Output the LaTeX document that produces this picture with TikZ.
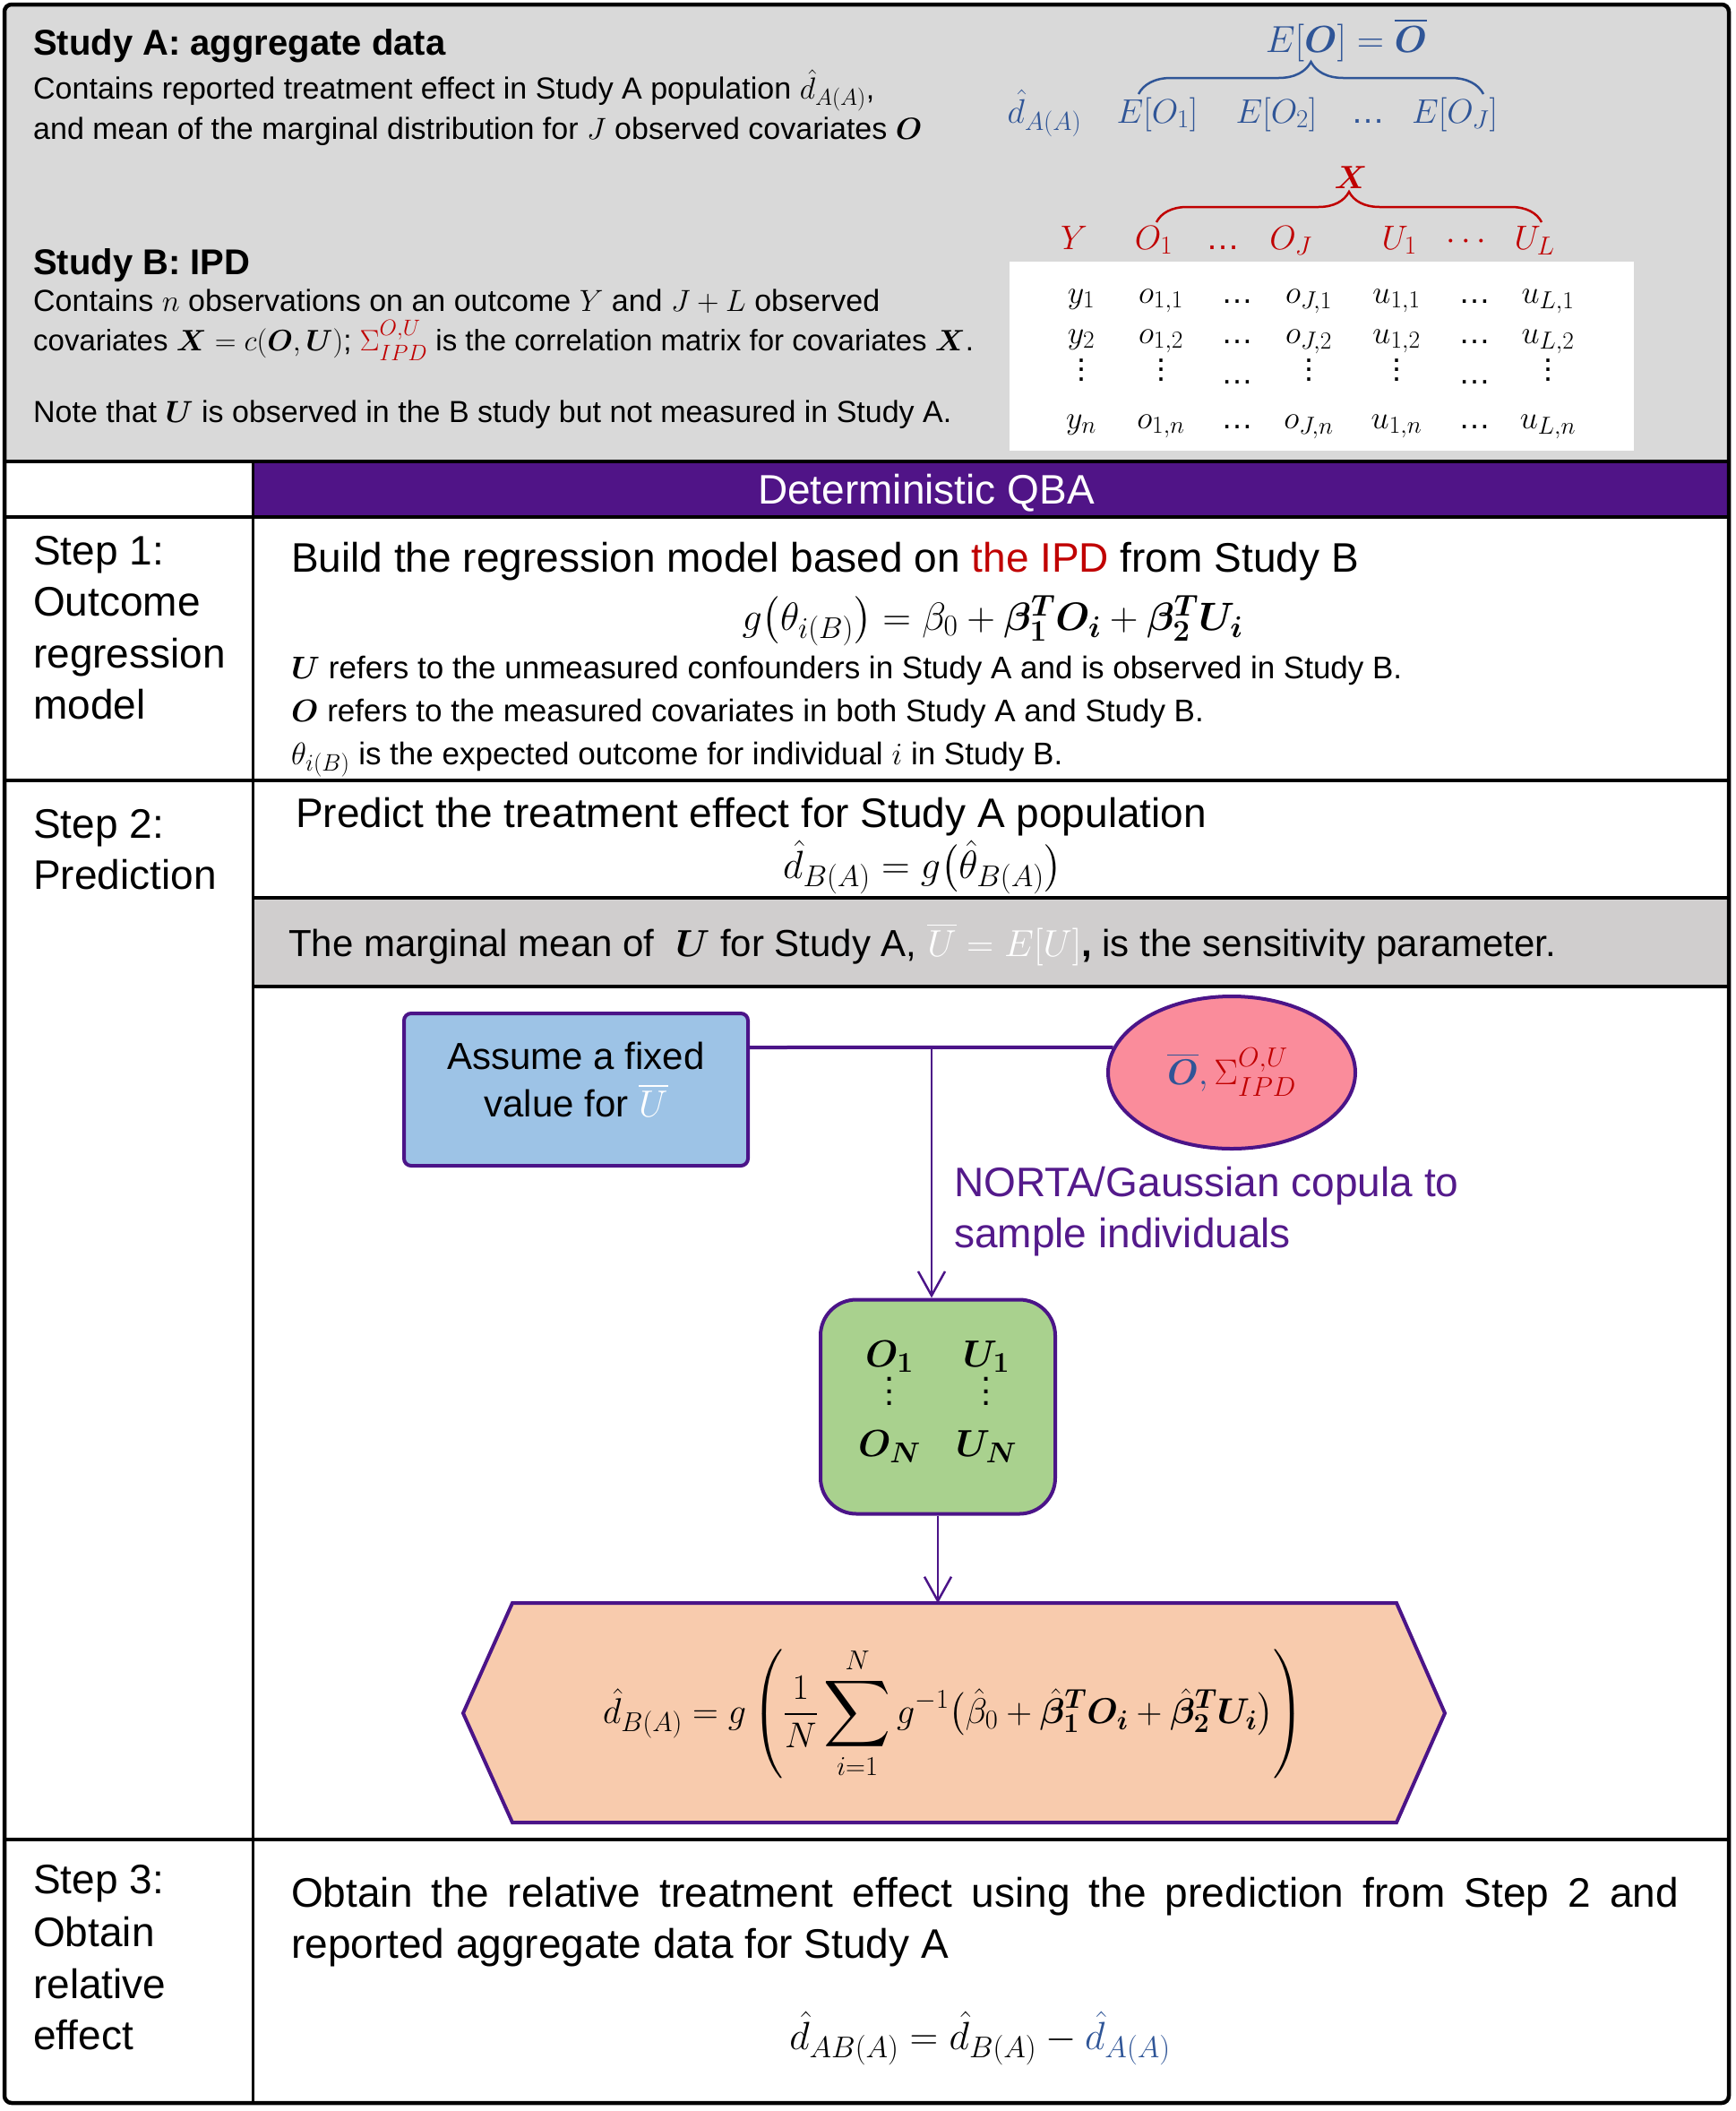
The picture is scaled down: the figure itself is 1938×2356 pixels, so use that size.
\RequirePackage{fix-cm}
\documentclass[tikz,border=0pt]{standalone}
\usepackage{amsmath,bm,graphicx}
\DeclareFontShape{OMX}{cmex}{m}{n}{<-7.5>cmex7<7.5-8.5>cmex8<8.5-9.5>cmex9<9.5->cmex10}{}
\usepackage[no-math]{fontspec}
\setmainfont{Liberation Sans}
\usetikzlibrary{decorations.pathreplacing,arrows.meta,shapes.geometric,calc}
\definecolor{tgray}{HTML}{D9D9D9}
\definecolor{tpurple}{HTML}{501487}
\definecolor{bandgray}{HTML}{D0CECE}
\definecolor{tblue}{HTML}{2F5597}
\definecolor{tred}{HTML}{C00000}
\definecolor{bpurple}{HTML}{4B1488}
\definecolor{boxblue}{HTML}{9DC3E6}
\definecolor{boxpink}{HTML}{FA8C9B}
\definecolor{boxgreen}{HTML}{A9D18E}
\definecolor{boxpeach}{HTML}{F8CBAD}
\definecolor{nortac}{HTML}{541A8B}
\renewcommand\defaultscriptratio{.76}
\renewcommand\defaultscriptscriptratio{.6}
\newcommand\setfs[1]{\fontsize{#1}{#1}\selectfont}
\newcommand\vdt[1]{\vbox{\baselineskip=#1em\lineskiplimit=-100pt\lineskip=0pt\hbox{.}\hbox{.}\hbox{.}}}
\tikzset{
  txt/.style={anchor=base west,inner sep=0pt},
  ctr/.style={anchor=base,inner sep=0pt},
  sepline/.style={line width=4.5pt,black},
  vline/.style={line width=3pt,black},
  bluetxt/.style={ctr,text=tblue,font=\setfs{38}},
  redtxt/.style={ctr,text=tred,font=\setfs{38}},
  tab/.style={ctr,font=\setfs{36}},
  stepl/.style={txt,font=\setfs{46}},
  boxline/.style={draw=bpurple,line width=4pt},
  conn/.style={draw=bpurple,line width=2.5pt},
  tip/.style={-{Straight Barb[length=27pt,width=30pt,line width=2.5pt]}},
  gtxt/.style={ctr,font=\setfs{42}},
}
\begin{document}
\begin{tikzpicture}[x=1pt,y=-1pt]
\useasboundingbox (0,0) rectangle (1938,2356);
% backgrounds
\fill[tgray] (5,5) rectangle (1930,515);
\fill[tpurple] (282,515) rectangle (1930,577);
\fill[bandgray] (282,1002) rectangle (1930,1101);
\fill[white] (1127,292) rectangle (1824,503);
% separators
\draw[sepline] (5,515) -- (1930,515);
\draw[sepline] (5,577) -- (1930,577);
\draw[sepline] (5,871) -- (1930,871);
\draw[sepline] (282,1002) -- (1930,1002);
\draw[sepline] (282,1101) -- (1930,1101);
\draw[sepline] (5,2053) -- (1930,2053);
\draw[vline] (282,515) -- (282,2347);
\draw[line width=4.5pt,rounded corners=8pt] (5,5) rectangle (1930,2347);

% ---------- Top left text
\node[txt,font=\setfs{40}\bfseries] (sa) at (37,61) {Study A: aggregate data};
\node[txt,font=\setfs{34}] (sa1) at (37,110) {Contains reported treatment effect in Study A population $\hat{d}_{A(A)}$,};
\node[txt,font=\setfs{34}] (sa2) at (37,155) {and mean of the marginal distribution for $J$ observed covariates $\bm{O}$};
\node[txt,font=\setfs{40}\bfseries] (sb) at (37,306) {Study B: IPD};
\node[txt,font=\setfs{34}] (sb1) at (37,347) {Contains $n$ observations on an outcome $Y$ and $J+L$ observed};
\node[txt,font=\setfs{33}] (sb2) at (37,391) {covariates $\bm{X}=c(\bm{O},\bm{U})$; {\color{tred}$\Sigma_{IPD}^{O,U}$} is the correlation matrix for covariates $\bm{X}$.};
\node[txt,font=\setfs{34}] (sb3) at (37,471) {Note that $\bm{U}$ is observed in the B study but not measured in Study A.};

% ---------- Top right
\node[ctr,text=tblue,font=\setfs{42}] (eo) at (1503,58) {$E[\bm{O}]=\overline{\bm{O}}$};
\draw[tblue,line width=2.5pt,decorate,decoration={brace,amplitude=36pt}] (1271,105) -- (1656,105);
\node[bluetxt] (dA) at (1166,137) {$\hat{d}_{A(A)}$};
\node[bluetxt] (eo1) at (1292,137) {$E[O_1]$};
\node[bluetxt] (eo2) at (1425,137) {$E[O_2]$};
\node[bluetxt] (eod) at (1527,137) {…};
\node[bluetxt] (eoj) at (1624,137) {$E[O_J]$};

\node[ctr,text=tred,font=\setfs{36}] (xx) at (1508,210) {$\bm{X}$};
\draw[tred,line width=2.5pt,decorate,decoration={brace,amplitude=34pt}] (1291,248) -- (1721,248);
\node[redtxt] (hy) at (1199,278) {$Y$};
\node[redtxt] (ho1) at (1288,278) {$O_1$};
\node[redtxt] (hod) at (1365,278) {…};
\node[redtxt] (hoj) at (1441,278) {$O_J$};
\node[redtxt] (hu1) at (1562,278) {$U_1$};
\node[redtxt] (hud) at (1640,278) {$\cdots$};
\node[redtxt] (hul) at (1713,278) {$U_L$};

\foreach \rn/\yy in {1/338,2/383,n/478}{
  \node[tab] (ty\rn) at (1207,\yy) {$y_{\rn}$};
  \node[tab] (to\rn) at (1296,\yy) {$o_{1,\rn}$};
  \node[tab] (tod\rn) at (1381,\yy) {…};
  \node[tab] (toj\rn) at (1461,\yy) {$o_{J,\rn}$};
  \node[tab] (tu\rn) at (1559,\yy) {$u_{1,\rn}$};
  \node[tab] (tud\rn) at (1646,\yy) {…};
  \node[tab] (tul\rn) at (1728,\yy) {$u_{L,\rn}$};
}
\foreach \xx/\nm in {1207/a,1296/b,1461/d,1559/e,1728/g}{
  \node[font=\setfs{36},inner sep=0pt] (tv\nm) at (\xx,413) {\vdt{0.3}};
}
\foreach \xx/\nm in {1381/c,1646/f}{
  \node[tab] (tv\nm) at (\xx,428) {…};
}

% ---------- Header
\node[text=white,font=\setfs{46},inner sep=0pt] (hdr) at (1034,550) {Deterministic QBA};

% ---------- Step 1
\node[stepl] (l1a) at (37,630) {Step 1:};
\node[stepl] (l1b) at (37,687) {Outcome};
\node[stepl] (l1c) at (37,745) {regression};
\node[stepl] (l1d) at (37,802) {model};
\node[txt,font=\setfs{46}] (s1a) at (325,638) {Build the regression model based on {\color{tred}the IPD} from Study B};
\node[ctr,font=\setfs{44}] (s1f) at (1108,703) {$g\bigl(\theta_{i(B)}\bigr)=\beta_0+\bm{\beta}_{\bm{1}}^{\bm{T}}\bm{O}_{\bm{i}}+\bm{\beta}_{\bm{2}}^{\bm{T}}\bm{U}_{\bm{i}}$};
\node[txt,font=\setfs{35}] (s1b) at (325,757) {$\bm{U}$ refers to the unmeasured confounders in Study A and is observed in Study B.};
\node[txt,font=\setfs{35}] (s1c) at (325,805) {$\bm{O}$ refers to the measured covariates in both Study A and Study B.};
\node[txt,font=\setfs{35}] (s1d) at (325,853) {$\theta_{i(B)}$ is the expected outcome for individual $i$ in Study B.};

% ---------- Step 2
\node[stepl] (l2a) at (37,935) {Step 2:};
\node[stepl] (l2b) at (37,992) {Prediction};
\node[txt,font=\setfs{46}] (s2a) at (330,923) {Predict the treatment effect for Study A population};
\node[ctr,font=\setfs{44}] (s2f) at (1030,980) {$\hat{d}_{B(A)}=g\bigl(\hat{\theta}_{B(A)}\bigr)$};
\node[txt,font=\setfs{42}] (s2g) at (322,1067) {The marginal mean of \ $\bm{U}$ for Study A, {\color{white}$\overline{U}=E[U]$}\textbf{,} is the sensitivity parameter.};

\node[boxline,fill=boxblue,rounded corners=8pt,minimum width=384pt,minimum height=170pt] (fixb) at (643,1216) {};
\node[align=center,font=\fontsize{42}{53}\selectfont,inner sep=0pt] (fixt) at (643,1205) {Assume a fixed\\value for {\color{white}$\overline{U}$}};
\node[ellipse,boxline,fill=boxpink,minimum width=276pt,minimum height=170pt,inner sep=0pt,font=\setfs{40}] (ell) at (1375,1197) {$\color{tblue}\overline{\bm{O}},{\color{tred}\Sigma_{IPD}^{O,U}}$};
\coordinate (jn) at (1040,1169);
\draw[draw=bpurple,line width=4pt] (fixb.east |- jn) -- (ell.168);

\node[txt,text=nortac,font=\setfs{46}] (nt1) at (1065,1335) {NORTA/Gaussian copula to};
\node[txt,text=nortac,font=\setfs{46}] (nt2) at (1065,1392) {sample individuals};

\node[boxline,fill=boxgreen,rounded corners=40pt,minimum width=262pt,minimum height=239pt] (green) at (1047,1570) {};
\node[gtxt] (go1) at (993,1525) {$\bm{O_1}$};
\node[gtxt] (gu1) at (1101,1525) {$\bm{U_1}$};
\node[font=\setfs{40},inner sep=0pt] (gv1) at (993,1553) {\vdt{0.33}};
\node[font=\setfs{40},inner sep=0pt] (gv2) at (1101,1553) {\vdt{0.33}};
\node[gtxt] (gon) at (993,1625) {$\bm{O_N}$};
\node[gtxt] (gun) at (1101,1625) {$\bm{U_N}$};

\draw[conn,tip] (jn) -- (jn |- green.north);

% hexagon
\filldraw[boxline,fill=boxpeach] (517,1912) -- (572,1789) -- (1559,1789) -- (1613,1912) -- (1559,2034) -- (572,2034) -- cycle;
\node[minimum width=1096pt,minimum height=245pt,font=\setfs{40}] (hex) at (1065,1912) {$\displaystyle \hat{d}_{B(A)}=g\left(\rule[-50pt]{0pt}{120pt}\frac{1}{N}\mathop{\vcenter{\hbox{\scalebox{1.3}{$\displaystyle\sum$}}}}\limits_{i=1}^{N}g^{-1}\bigl(\hat{\beta}_0+\hat{\bm{\beta}}_{\bm{1}}^{\bm{T}}\bm{O}_{\bm{i}}+\hat{\bm{\beta}}_{\bm{2}}^{\bm{T}}\bm{U}_{\bm{i}}\bigr)\right)$};
\draw[conn,tip] (green.south) -- (green.south |- hex.north);

% ---------- Step 3
\node[stepl] (l3a) at (37,2113) {Step 3:};
\node[stepl] (l3b) at (37,2172) {Obtain};
\node[stepl] (l3c) at (37,2230) {relative};
\node[stepl] (l3d) at (37,2287) {effect};
\node[txt,font=\setfs{46}] (s3a) at (325,2128) {\makebox[1549pt][s]{Obtain the relative treatment effect using the prediction from Step 2 and}};
\node[txt,font=\setfs{46}] (s3b) at (325,2185) {reported aggregate data for Study A};
\node[ctr,font=\setfs{44}] (s3f) at (1094,2287) {$\hat{d}_{AB(A)}=\hat{d}_{B(A)}-{\color{tblue}\hat{d}_{A(A)}}$};
\end{tikzpicture}
\end{document}
